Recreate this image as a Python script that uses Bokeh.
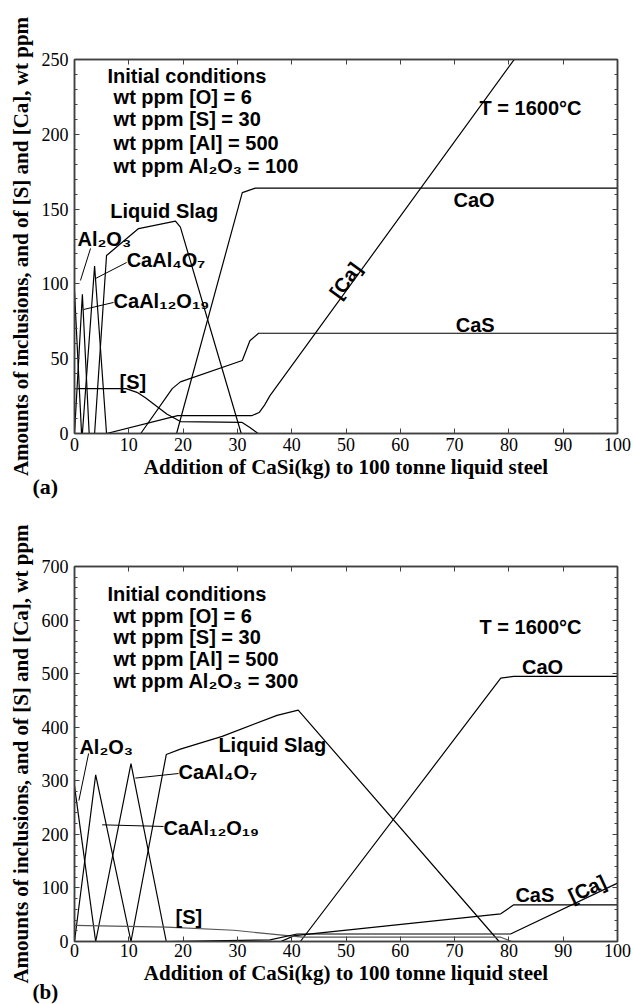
from bokeh.plotting import figure
from bokeh.layouts import column
from bokeh.models import Label, LinearAxis, SingleIntervalTicker, Range1d, CustomJSTickFormatter, Title
from bokeh.embed import file_html
from bokeh.resources import INLINE

# ---------------- Panel (a): Al2O3 = 100 ppm ----------------
a_al2o3_x = [0, 1.3]
a_al2o3_y = [95, 0]
a_ca12_x = [0, 1.45, 2.7]
a_ca12_y = [0, 93, 0]
a_ca4_x = [1.45, 3.7, 5.9]
a_ca4_y = [0, 112, 0]
a_slag_x = [3.7, 5.9, 11.8, 18.6, 19.5, 30.7]
a_slag_y = [0, 119, 137, 142, 138, 0]
a_cao_x = [18.8, 30.9, 33.3, 100]
a_cao_y = [0, 161, 164, 164]
a_cas_x = [12.2, 18.0, 19.5, 30.9, 32.3, 33.9, 100]
a_cas_y = [0, 30, 34.5, 48.8, 62, 67, 67]
a_s_x = [0, 9.5, 11.5, 13, 17, 19.5, 30.8, 32.3, 33.8, 100]
a_s_y = [30, 30, 27.5, 24, 13, 8, 7.5, 4, 0, 0]
a_ca_x = [5.9, 19, 32.7, 34, 35, 36, 100]
a_ca_y = [0, 12, 12, 14, 19, 25.3, 345]

# ---------------- Panel (b): Al2O3 = 300 ppm ----------------
b_al2o3_x = [0, 3.9]
b_al2o3_y = [290, 0]
b_ca12_x = [0, 3.9, 10.4]
b_ca12_y = [0, 311, 0]
b_ca4_x = [3.9, 10.4, 16.9]
b_ca4_y = [0, 332, 0]
b_slag_x = [10.4, 16.9, 19.5, 27.2, 37.3, 41.2, 78.2]
b_slag_y = [0, 349, 359, 383, 422, 432, 0]
b_cao_x = [41.6, 78.5, 80.9, 100]
b_cao_y = [0, 491.5, 495, 495]
b_cas_x = [38, 40.5, 78.5, 80.9, 100]
b_cas_y = [0, 11, 51.6, 68.5, 68.5]
b_s_x = [0, 17, 29.3, 39.2, 42, 78.5, 80.5, 100]
b_s_y = [30, 27, 21, 11, 8, 8, 0, 0]
b_ca_x = [17, 36, 41, 80.3, 100]
b_ca_y = [0, 3, 14, 14, 109]

x_label = "Addition of CaSi(kg) to 100 tonne liquid steel"
y_label = "Amounts of inclusions, and of [S] and [Ca], wt ppm"

SANS = "Liberation Sans"
SERIF = "Liberation Serif"
FRAME = "#404040"


def make_fig(height, top_b, bot_b, ymax, yint, tick_standoff=4):
    p = figure(width=633, height=height, x_range=Range1d(0, 100), y_range=Range1d(0, ymax),
               output_backend="svg", toolbar_location=None,
               min_border_left=74, min_border_right=16,
               min_border_top=top_b, min_border_bottom=bot_b)
    p.xgrid.visible = False
    p.ygrid.visible = False
    p.outline_line_color = FRAME
    p.outline_line_width = 1.5
    p.background_fill_color = "white"
    p.border_fill_color = "white"

    def style(ax):
        ax.axis_line_color = FRAME
        ax.axis_line_width = 1.5
        ax.major_tick_in = 5
        ax.major_tick_out = 0
        ax.minor_tick_in = 3
        ax.minor_tick_out = 0
        ax.major_tick_line_color = FRAME
        ax.minor_tick_line_color = FRAME
        ax.major_label_text_font = SERIF
        ax.major_label_text_font_size = "18px"
        ax.major_label_text_color = "black"
        ax.axis_label_text_font = SERIF
        ax.axis_label_text_font_style = "bold"
        ax.axis_label_text_font_size = "21px"
        ax.axis_label_text_color = "black"

    xa = p.xaxis[0]
    ya = p.yaxis[0]
    xa.ticker = SingleIntervalTicker(interval=10, num_minor_ticks=0)
    ya.ticker = SingleIntervalTicker(interval=yint, num_minor_ticks=5)
    style(xa)
    style(ya)
    xa.major_label_standoff = tick_standoff
    ya.major_label_standoff = 6
    xa.axis_label = x_label
    ya.axis_label = y_label
    xa.axis_label_standoff = 1
    ya.axis_label_standoff = 6

    blank = CustomJSTickFormatter(code="return ''")
    ra = LinearAxis(ticker=SingleIntervalTicker(interval=yint, num_minor_ticks=5), formatter=blank)
    style(ra)
    ra.major_label_standoff = 0
    p.add_layout(ra, "right")
    ta = LinearAxis(ticker=SingleIntervalTicker(interval=10, num_minor_ticks=0), formatter=blank)
    style(ta)
    ta.major_label_standoff = 0
    p.add_layout(ta, "above")
    return p


def lab(p, x, y, text, size="20px", font=SANS, style="bold", align="left", angle=0):
    p.add_layout(Label(x=x, y=y, text=text, text_font=font, text_font_size=size,
                       text_font_style=style, text_align=align, text_baseline="middle",
                       text_color="black", angle=angle, angle_units="deg"))


def panel_tag(p, text, standoff, size="22px"):
    # panel letter, drawn as a title below the x axis, shifted left of the frame
    p.add_layout(Title(text=text, align="left", offset=-42, standoff=standoff,
                       vertical_align="bottom", text_font=SERIF, text_font_size=size,
                       text_font_style="bold", text_color="black"), "below")


def curves(p, series):
    for xs, ys, col in series:
        p.line(xs, ys, line_color=col, line_width=1.2)


# ---------- figure (a)
pa = make_fig(502, 59, 69, 250, 50)
curves(pa, [
    (a_al2o3_x, a_al2o3_y, "black"), (a_ca12_x, a_ca12_y, "black"), (a_ca4_x, a_ca4_y, "black"),
    (a_slag_x, a_slag_y, "black"), (a_cao_x, a_cao_y, "black"), (a_cas_x, a_cas_y, "black"),
    (a_s_x, a_s_y, "black"), (a_ca_x, a_ca_y, "black"),
])
# leader lines (annotation positions)
pa.line([1.1, 2.95], [102.3, 123.7], line_color="black", line_width=1)
pa.line([3.87, 9.6], [103.6, 114.3], line_color="black", line_width=1)
pa.line([1.7, 7.2], [82.9, 87.6], line_color="black", line_width=1)

lab(pa, 6.08, 239.3, "Initial conditions")
lab(pa, 7.2, 224.6, "wt ppm [O] = 6")
lab(pa, 7.2, 209.9, "wt ppm [S] = 30")
lab(pa, 7.2, 194.5, "wt ppm [Al] = 500")
lab(pa, 7.2, 179.1, "wt ppm Al₂O₃ = 100")
lab(pa, 6.6, 148.4, "Liquid Slag")
lab(pa, 0.55, 130.3, "Al₂O₃")
lab(pa, 9.6, 116.3, "CaAl₄O₇")
lab(pa, 7.2, 88.4, "CaAl₁₂O₁₉")
lab(pa, 8.3, 34.1, "[S]")
lab(pa, 74.6, 217.9, "T = 1600°C")
lab(pa, 69.8, 156.4, "CaO")
lab(pa, 70.2, 72.2, "CaS")
lab(pa, 49.9, 102.3, "[Ca]", align="center", angle=54)
panel_tag(pa, "(a)", -20)

# ---------- figure (b)
pb = make_fig(502, 64, 63, 700, 100, tick_standoff=2)
curves(pb, [
    (b_al2o3_x, b_al2o3_y, "black"), (b_ca12_x, b_ca12_y, "black"), (b_ca4_x, b_ca4_y, "black"),
    (b_slag_x, b_slag_y, "black"), (b_cao_x, b_cao_y, "black"), (b_cas_x, b_cas_y, "black"),
    (b_s_x, b_s_y, "#555555"), (b_ca_x, b_ca_y, "black"),
])
pb.line([0.8, 2.6], [263, 351], line_color="black", line_width=1)
pb.line([11.2, 19.15], [305, 313.6], line_color="black", line_width=1)
pb.line([5.1, 16.4], [217.8, 214.7], line_color="black", line_width=1)

lab(pb, 6.08, 649.6, "Initial conditions")
lab(pb, 7.2, 608.5, "wt ppm [O] = 6")
lab(pb, 7.2, 568.0, "wt ppm [S] = 30")
lab(pb, 7.2, 527.7, "wt ppm [Al] = 500")
lab(pb, 7.2, 487.2, "wt ppm Al₂O₃ = 300")
lab(pb, 74.6, 586.7, "T = 1600°C")
lab(pb, 82.4, 512, "CaO")
lab(pb, 0.9, 364, "Al₂O₃")
lab(pb, 26.5, 367.7, "Liquid Slag")
lab(pb, 19.15, 316, "CaAl₄O₇")
lab(pb, 16.4, 211, "CaAl₁₂O₁₉")
lab(pb, 18.6, 45.4, "[S]")
lab(pb, 81.2, 85.9, "CaS")
lab(pb, 94.4, 98.4, "[Ca]", align="center", angle=25)
panel_tag(pb, "(b)", -20, size="21px")

layout = column(pa, pb, spacing=0)
open("out.html", "w").write(file_html(layout, INLINE))
